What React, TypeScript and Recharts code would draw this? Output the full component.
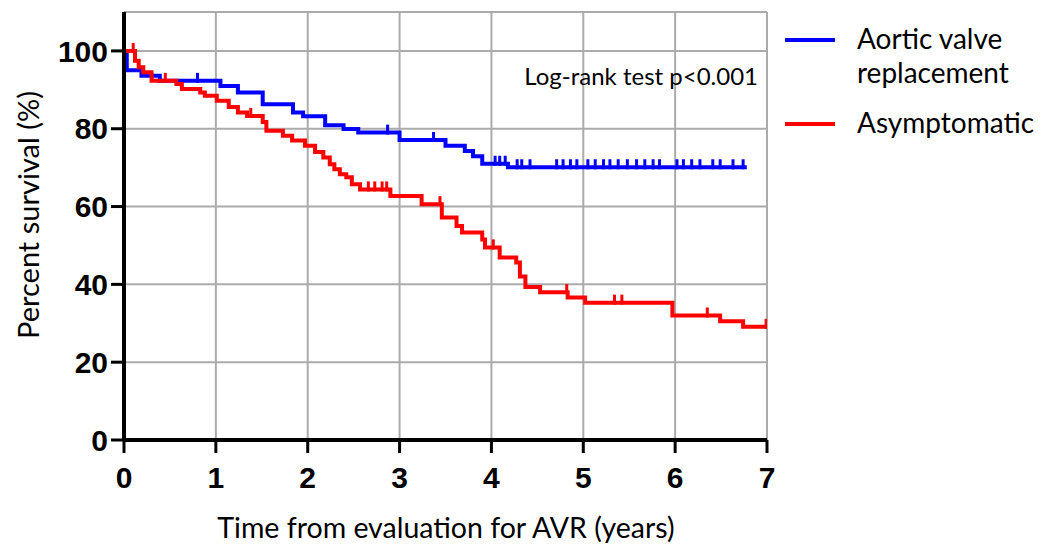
import React from 'react'
import { ComposedChart, Line, XAxis, YAxis, CartesianGrid } from 'recharts'

// Kaplan-Meier steps: [time (years), survival %]
const avrSteps: Array<[number, number]> = [
  [0, 100], [0.03, 95], [0.19, 93.6], [0.39, 92.3], [1.05, 91], [1.24, 89.3], [1.51, 86.3],
  [1.84, 84.2], [1.95, 83.2], [2.19, 80.9], [2.39, 79.9], [2.55, 79.0], [3.0, 77.1], [3.5, 75.6],
  [3.71, 74.3], [3.8, 72.9], [3.9, 71], [4.18, 70.1], [6.78, 70.1],
]
const asymSteps: Array<[number, number]> = [
  [0, 100], [0.12, 97.5], [0.16, 95.8], [0.21, 94.5], [0.3, 92.3], [0.57, 91.5], [0.63, 90.2],
  [0.83, 89.3], [0.88, 88.5], [1.01, 87.2], [1.14, 85.6], [1.24, 84.2], [1.34, 83.3], [1.51, 81.7],
  [1.55, 79.5], [1.73, 78.2], [1.83, 77], [1.97, 75.6], [2.08, 74], [2.17, 72.6], [2.24, 70.9],
  [2.29, 69.6], [2.35, 68.3], [2.42, 67.5], [2.48, 65.7], [2.57, 64.4], [2.9, 62.7], [3.24, 60.6],
  [3.46, 57.2], [3.62, 55.0], [3.68, 53.3], [3.9, 51.5], [3.93, 49.5], [4.09, 46.9], [4.27, 45.6],
  [4.31, 42], [4.37, 39.3], [4.53, 38], [4.83, 36.6], [5.02, 35.3], [5.97, 32], [6.49, 30.5],
  [6.74, 29.1], [7.0, 29.1],
]
// censored observations (times)
const avrCensored = [
  0.8, 2.87, 3.37, 4.04, 4.09, 4.15, 4.28, 4.33, 4.42, 4.71, 4.78, 4.86, 4.93, 5.05, 5.13, 5.22,
  5.29, 5.38, 5.48, 5.58, 5.67, 5.76, 5.83, 6.02, 6.09, 6.18, 6.27, 6.41, 6.49, 6.63, 6.74,
]
const asymCensored = [0.1, 0.45, 1.38, 2.66, 2.73, 2.81, 2.86, 3.44, 4.02, 4.82, 5.34, 5.42, 6.35, 6.99]

const xTicks = [0, 1, 2, 3, 4, 5, 6, 7]
const yTicks = [0, 20, 40, 60, 80, 100]

const BLUE = '#0000ff'
const RED = '#ff0000'

const toRows = (steps: Array<[number, number]>) => steps.map(([t, s]) => ({ t, s }))
const levelAt = (steps: Array<[number, number]>, time: number) => {
  let s = steps[0][1]
  for (const [t, v] of steps) if (t <= time) s = v
  return s
}
const censorRows = (steps: Array<[number, number]>, times: number[]) =>
  times.map((t) => ({ t, s: levelAt(steps, t) }))

const tickDot = (color: string) => (props: any) => {
  const { cx, cy, index } = props
  if (cx == null || cy == null) return <g key={index} />
  return <line key={index} x1={cx} x2={cx} y1={cy - 8} y2={cy + 2} stroke={color} strokeWidth={3} />
}

const tickStyle = { fontFamily: 'Liberation Sans', fontWeight: 700, fontSize: 30, fill: '#000' }
const textFont = 'Lato, "Open Sans", sans-serif'

export default function App() {
  return (
    <div style={{ position: 'absolute', left: 0, top: 0, width: 1056, height: 544, background: '#fff' }}>
      <ComposedChart width={1056} height={544} margin={{ top: 12, right: 289, bottom: 44, left: 60 }}>
        <CartesianGrid stroke="#ababab" strokeWidth={2} />
        <XAxis
          type="number"
          dataKey="t"
          domain={[0, 7]}
          ticks={xTicks}
          allowDataOverflow
          height={60}
          tickSize={13}
          tickMargin={14}
          axisLine={{ stroke: '#000', strokeWidth: 4 }}
          tickLine={{ stroke: '#000', strokeWidth: 3 }}
          tick={tickStyle}
          label={() => (
            <text x={446} y={538} textAnchor="middle" fontFamily={textFont} fontSize={28.5} fill="#000">
              Time from evaluation for AVR (years)
            </text>
          )}
        />
        <YAxis
          type="number"
          domain={[0, 110]}
          ticks={yTicks}
          allowDataOverflow
          width={64}
          tickSize={13}
          tickMargin={3}
          axisLine={{ stroke: '#000', strokeWidth: 4 }}
          tickLine={{ stroke: '#000', strokeWidth: 3 }}
          tick={tickStyle}
          label={() => (
            <text
              x={39}
              y={215}
              transform="rotate(-90 39 215)"
              textAnchor="middle"
              fontFamily={textFont}
              fontSize={29}
              fill="#000"
            >
              Percent survival (%)
            </text>
          )}
        />
        <Line data={toRows(avrSteps)} dataKey="s" type="stepAfter" stroke={BLUE} strokeWidth={4} dot={false} isAnimationActive={false} />
        <Line data={toRows(asymSteps)} dataKey="s" type="stepAfter" stroke={RED} strokeWidth={4} dot={false} isAnimationActive={false} />
        <Line data={censorRows(avrSteps, avrCensored)} dataKey="s" stroke="none" dot={tickDot(BLUE)} isAnimationActive={false} />
        <Line data={censorRows(asymSteps, asymCensored)} dataKey="s" stroke="none" dot={tickDot(RED)} isAnimationActive={false} />
      </ComposedChart>
      <div style={{ position: 'absolute', right: 298, top: 61, fontFamily: textFont, fontSize: 24, color: '#000', lineHeight: '30px' }}>
        Log-rank test p&lt;0.001
      </div>
      <div style={{ position: 'absolute', left: 785, top: 21, fontFamily: textFont, fontSize: 28, color: '#000', lineHeight: '34px' }}>
        <div style={{ display: 'flex', alignItems: 'flex-start' }}>
          <div style={{ width: 50, height: 4, background: BLUE, marginTop: 17, marginRight: 22 }} />
          <div>Aortic valve<br />replacement</div>
        </div>
        <div style={{ display: 'flex', alignItems: 'flex-start', marginTop: 16 }}>
          <div style={{ width: 50, height: 4, background: RED, marginTop: 17, marginRight: 22 }} />
          <div>Asymptomatic</div>
        </div>
      </div>
    </div>
  )
}
